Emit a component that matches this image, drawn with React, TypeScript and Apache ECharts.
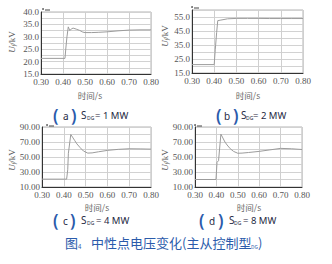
import React, { useEffect, useRef } from "react";
import * as echarts from "echarts";

// Panel (a) S_DG = 1 MW
const timeA = [0.30, 0.409, 0.413, 0.418, 0.424, 0.431, 0.438, 0.446, 0.46, 0.475, 0.49, 0.50, 0.53, 0.56, 0.60, 0.65, 0.70, 0.75, 0.80];
const voltA = [21.3, 21.3, 25.5, 30.0, 34.0, 32.5, 33.2, 33.5, 33.1, 32.6, 31.9, 31.7, 31.7, 31.8, 32.0, 32.4, 32.7, 32.8, 32.8];
// Panel (b) S_DG = 2 MW
const timeB = [0.30, 0.40, 0.405, 0.411, 0.416, 0.43, 0.46, 0.50, 0.55, 0.60, 0.65, 0.70, 0.75, 0.80];
const voltB = [21.0, 21.0, 32.0, 44.0, 52.4, 52.8, 53.7, 54.0, 54.0, 54.0, 53.9, 53.9, 53.9, 53.9];
// Panel (c) S_DG = 4 MW
const timeC = [0.30, 0.413, 0.418, 0.421, 0.432, 0.44, 0.45, 0.46, 0.475, 0.49, 0.51, 0.53, 0.56, 0.60, 0.65, 0.70, 0.75, 0.80];
const voltC = [20.5, 20.5, 33.0, 55.0, 80.0, 76.5, 72.0, 67.5, 62.5, 58.0, 55.2, 55.5, 57.0, 58.8, 60.2, 61.0, 60.8, 60.5];
// Panel (d) S_DG = 8 MW
const timeD = [0.30, 0.398, 0.403, 0.41, 0.421, 0.43, 0.44, 0.45, 0.465, 0.48, 0.50, 0.52, 0.55, 0.60, 0.65, 0.70, 0.75, 0.80];
const voltD = [20.0, 20.0, 43.0, 45.0, 80.5, 75.5, 70.0, 66.0, 61.0, 57.5, 55.0, 55.2, 56.0, 57.5, 59.5, 61.5, 61.0, 60.0];

const panelCaps = ["a", "b", "c", "d"];
const panelPower = ["1", "2", "4", "8"];
const xTicks = { min: 0.3, max: 0.8, step: 0.1 };
const yRanges = [
  { min: 15, max: 40, step: 2.5, labelStep: 5, digits: 1 },
  { min: 15, max: 60, step: 5, labelStep: 10, digits: 1 },
  { min: 10, max: 90, step: 10, labelStep: 20, digits: 2 },
  { min: 10, max: 90, step: 10, labelStep: 20, digits: 2 },
];

const grids = [
  { left: 41, top: 12, width: 110, height: 62 },
  { left: 192, top: 10, width: 111, height: 63 },
  { left: 42, top: 127, width: 109, height: 60 },
  { left: 195, top: 127, width: 107, height: 60 },
];

const SERIF = "'Liberation Serif', 'DejaVu Serif', serif";
const CJK = "'Noto Sans CJK SC', sans-serif";
const SANS = "'Noto Sans', sans-serif";
const BLUE = "#2b5bab";
const INK = "#1f2a44";

export default function App() {
  const ref = useRef<HTMLDivElement>(null);

  useEffect(() => {
    if (!ref.current) return;
    const chart = echarts.init(ref.current, undefined, { renderer: "svg" });
    const series = [
      [timeA, voltA],
      [timeB, voltB],
      [timeC, voltC],
      [timeD, voltD],
    ].map(([t, v], i) => ({
      type: "line",
      xAxisIndex: i,
      yAxisIndex: i,
      showSymbol: false,
      data: t.map((x, k) => [x, v[k]]),
      lineStyle: { color: "#9c9c9c", width: 1 },
    }));

    const graphic: any[] = [];
    // y-axis names (U_f/kV)
    const yNamePos = [
      [12, 42],
      [165, 36],
      [12, 160],
      [165, 160],
    ];
    yNamePos.forEach(([x, y]) => {
      graphic.push({
        type: "text",
        x,
        y,
        rotation: Math.PI / 2,
        style: {
          text: "{u|U}{f|f}{k|/kV}",
          align: "center",
          verticalAlign: "middle",
          rich: {
            u: { fontFamily: SERIF, fontStyle: "italic", fontSize: 9, fill: "#555" },
            f: { fontFamily: SERIF, fontStyle: "italic", fontSize: 6, fill: "#555", padding: [4, 0, 0, 0] },
            k: { fontFamily: SERIF, fontSize: 9, fill: "#555" },
          },
        },
      });
    });
    // x-axis names
    const xNamePos = [
      [90, 95],
      [248, 95],
      [97, 207],
      [249, 207],
    ];
    xNamePos.forEach(([x, y]) => {
      graphic.push({
        type: "text",
        x,
        y,
        style: { text: "时间/s", fontFamily: CJK, fontSize: 8.5, fill: "#666", align: "center", verticalAlign: "middle" },
      });
    });
    // small marks at the top of each y axis
    const markPos = [
      [43, 10],
      [192, 8],
      [47, 126],
      [195, 126],
    ];
    markPos.forEach(([x, y]) => {
      graphic.push({ type: "line", shape: { x1: x + 2, y1: y, x2: x + 7, y2: y }, style: { stroke: "#444", lineWidth: 1 } });
      graphic.push({ type: "circle", shape: { cx: x, cy: y - 1, r: 0.8 }, style: { fill: "#444" } });
    });
    // panel captions
    const capPos = [
      { y: 115, p1: 53, l: 63, p2: 71, s: 81, sub: 87, eq: 95 },
      { y: 115, p1: 216, l: 224, p2: 233, s: 241, sub: 246, eq: 253 },
      { y: 220, p1: 53, l: 63, p2: 70, s: 81, sub: 87, eq: 96 },
      { y: 220, p1: 199, l: 209, p2: 218, s: 229, sub: 234, eq: 243 },
    ];
    capPos.forEach((c, i) => {
      const mid = { verticalAlign: "middle" };
      graphic.push({ type: "text", x: c.p1, y: c.y, style: { text: "(", fontFamily: SANS, fontSize: 17, fontWeight: 600, fill: BLUE, ...mid } });
      graphic.push({ type: "text", x: c.l, y: c.y + 1, style: { text: panelCaps[i], fontFamily: SANS, fontSize: 10, fill: INK, ...mid } });
      graphic.push({ type: "text", x: c.p2, y: c.y, style: { text: ")", fontFamily: SANS, fontSize: 17, fontWeight: 600, fill: BLUE, ...mid } });
      graphic.push({ type: "text", x: c.s, y: c.y, style: { text: "S", fontFamily: SANS, fontSize: 10, fill: INK, ...mid } });
      graphic.push({ type: "text", x: c.sub, y: c.y + 3, style: { text: "DG", fontFamily: SANS, fontSize: 5, fill: INK, ...mid } });
      graphic.push({ type: "text", x: c.eq, y: c.y, style: { text: `= ${panelPower[i]} MW`, fontFamily: SANS, fontSize: 9.5, fill: INK, ...mid } });
    });
    // figure title
    graphic.push({ type: "text", x: 65, y: 242, style: { text: "图", fontFamily: CJK, fontSize: 13, fill: BLUE, verticalAlign: "middle" } });
    graphic.push({ type: "text", x: 78, y: 246, style: { text: "4", fontFamily: CJK, fontSize: 6, fill: BLUE, verticalAlign: "middle" } });
    graphic.push({ type: "text", x: 91, y: 242, style: { text: "中性点电压变化(主从控制型", fontFamily: CJK, fontSize: 13, fill: BLUE, verticalAlign: "middle" } });
    graphic.push({ type: "text", x: 251, y: 246, style: { text: "DG", fontFamily: CJK, fontSize: 5, fill: BLUE, verticalAlign: "middle" } });
    graphic.push({ type: "text", x: 258, y: 242, style: { text: ")", fontFamily: CJK, fontSize: 13, fill: BLUE, verticalAlign: "middle" } });

    const option = {
      animation: false,
      backgroundColor: "#ffffff",
      grid: grids.map((g) => ({ ...g, show: true, borderColor: "#b5b5b5", borderWidth: 1, backgroundColor: "transparent" })),
      xAxis: grids.map((_, i) => ({
        type: "value",
        gridIndex: i,
        min: xTicks.min,
        max: xTicks.max,
        interval: xTicks.step,
        axisLine: { show: true, onZero: false, lineStyle: { color: "#333", width: 1 } },
        axisTick: { show: false },
        splitLine: { show: true, lineStyle: { color: "#cfcfcf", width: 1 } },
        axisLabel: {
          margin: 3,
          fontFamily: SERIF,
          fontSize: 9,
          color: "#555",
          formatter: (v: number) => v.toFixed(2),
        },
      })),
      yAxis: yRanges.map((r, i) => ({
        type: "value",
        gridIndex: i,
        min: r.min,
        max: r.max,
        interval: r.step,
        axisLine: { show: true, onZero: false, lineStyle: { color: "#333", width: 1 } },
        axisTick: { show: false },
        splitLine: { show: true, lineStyle: { color: "#d2d2d2", width: 1 } },
        axisLabel: {
          margin: 2,
          fontFamily: SERIF,
          fontSize: 9,
          color: "#555",
          showMaxLabel: true,
          formatter: (v: number) => {
            const k = (v - r.min) / r.labelStep;
            return Math.abs(k - Math.round(k)) < 1e-6 ? v.toFixed(r.digits) : "";
          },
        },
      })),
      series,
      graphic,
    };
    chart.setOption(option as any);
    return () => chart.dispose();
  }, []);

  return <div ref={ref} style={{ position: "fixed", left: 0, top: 0, width: 332, height: 264, background: "#fff" }} />;
}
